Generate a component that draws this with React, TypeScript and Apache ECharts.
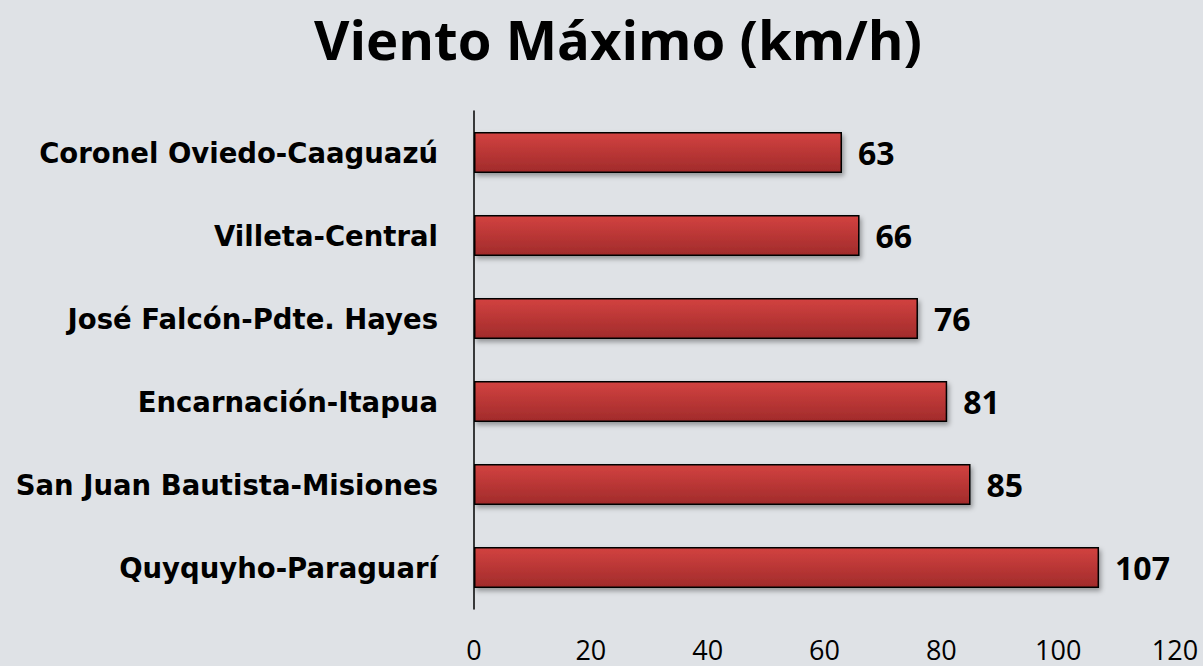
import React, { useEffect, useRef } from "react";
import * as echarts from "echarts";

const categories = [
  "Coronel Oviedo-Caaguazú",
  "Villeta-Central",
  "José Falcón-Pdte. Hayes",
  "Encarnación-Itapua",
  "San Juan Bautista-Misiones",
  "Quyquyho-Paraguarí",
];
const values = [63, 66, 76, 81, 85, 107];
const xTicks = [0, 20, 40, 60, 80, 100, 120];

const FONT = "'Open Sans', 'Noto Sans', sans-serif";
const CAT_FONT = "'DejaVu Sans', 'Open Sans', sans-serif";

export default function App() {
  const ref = useRef<HTMLDivElement>(null);
  useEffect(() => {
    document.body.style.margin = "0";
    const chart = echarts.init(ref.current!, null, { renderer: "svg" });
    chart.setOption({
      animation: false,
      backgroundColor: "#dfe2e6",
      title: {
        text: "Viento Máximo (km/h)",
        left: 309,
        top: 6,
        textStyle: { fontFamily: FONT, fontSize: 54.5, fontWeight: "bold", color: "#000" },
      },
      grid: { left: 474, right: 28, top: 111, bottom: 57, containLabel: false },
      xAxis: {
        type: "value",
        min: xTicks[0],
        max: xTicks[xTicks.length - 1],
        interval: 20,
        axisLine: { show: false },
        axisTick: { show: false },
        splitLine: { show: false },
        axisLabel: { fontFamily: FONT, fontSize: 27, lineHeight: 28, color: "#000", margin: 26 },
      },
      yAxis: {
        type: "category",
        data: categories,
        inverse: true,
        axisLine: { show: true, lineStyle: { color: "#000", width: 1.5 } },
        axisTick: { show: false },
        axisLabel: { fontFamily: CAT_FONT, fontSize: 27.5, fontWeight: "bold", color: "#000", margin: 36 },
      },
      series: [
        {
          type: "bar",
          data: values,
          barWidth: 41,
          itemStyle: {
            color: new echarts.graphic.LinearGradient(0, 0, 0, 1, [
              { offset: 0, color: "#d24240" },
              { offset: 1, color: "#a12b2b" },
            ]),
            borderColor: "#000",
            borderWidth: 1.5,
            shadowColor: "rgba(0,0,0,0.35)",
            shadowBlur: 5,
            shadowOffsetX: 2,
            shadowOffsetY: 3,
          },
          label: {
            show: true,
            position: "right",
            distance: 16,
            fontFamily: FONT,
            fontSize: 32,
            fontWeight: "bold",
            color: "#000",
          },
        },
      ],
    });
    return () => chart.dispose();
  }, []);
  return <div ref={ref} style={{ width: 1203, height: 666 }} />;
}
